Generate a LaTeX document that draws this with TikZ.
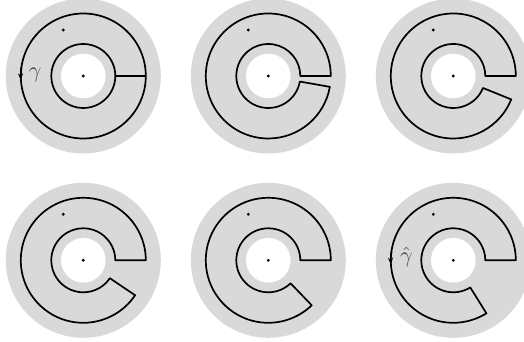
\documentclass[tikz,border=0pt]{standalone}
\usepackage{fix-cm}
\usetikzlibrary{arrows.meta}
\begin{document}
\begin{tikzpicture}[x=1pt,y=1pt,
  disk/.style={fill=black!15, draw=none},
  hole/.style={fill=white, draw=none},
  edge/.style={draw=black, line width=1.7pt, line join=round},
  lbl/.style={text=black!70, inner sep=0pt},
  ptdot/.style={fill=black, draw=none}]
\useasboundingbox (0,0) rectangle (524,342);
\def\Ro{62.5}
\def\Ri{32}
% panel 1
\begin{scope}[shift={(83.3,266)}]
  \fill[disk] (0,0) circle (77.5);
  \fill[hole] (0,0) circle (22.3);
  \draw[edge] (0,0) circle (\Ro);
  \draw[edge] (0,0) circle (\Ri);
  \coordinate (a1) at (\Ri,0);
  \coordinate (b1) at (\Ro,0);
  \draw[edge, line width=2.1pt] (a1) -- (b1);
  \fill[ptdot] (0,0) circle (1.6);
  \fill[ptdot] (-20,46) circle (1.6);
  \draw[line width=1.7pt, -{Stealth[length=7pt,width=5pt]}] (172:\Ro) arc[start angle=172, end angle=184, radius=\Ro];
  \node[lbl, scale=2.2] (g1) at (-48,1.5) {$\gamma$};
\end{scope}
% panels 2-6
\foreach \cx/\cy/\th/\nm in {268.3/266/-10/2, 453.3/266/-22/3, 83.3/81.7/-34/4, 268.3/81.7/-46/5, 453.3/81.7/-58/6}{
  \begin{scope}[shift={(\cx,\cy)}]
    \fill[disk] (0,0) circle (77.5);
    \fill[hole] (0,0) circle (22.3);
    \pgfmathsetmacro{\ea}{360+\th}
    \draw[edge] (\Ro,0) arc[start angle=0, end angle=\ea, radius=\Ro]
      -- (\th:\Ri) arc[start angle=\ea, end angle=0, radius=\Ri] -- cycle;
    \fill[ptdot] (0,0) circle (1.6);
    \fill[ptdot] (-20,46) circle (1.6);
  \end{scope}
}
% panel 6 arrow and label
\begin{scope}[shift={(453.3,81.7)}]
  \draw[line width=1.7pt, -{Stealth[length=7pt,width=5pt]}] (172:\Ro) arc[start angle=172, end angle=184, radius=\Ro];
  \node[lbl, scale=2.2] (g6) at (-47,3) {$\hat{\gamma}$};
\end{scope}
\end{tikzpicture}
\end{document}
